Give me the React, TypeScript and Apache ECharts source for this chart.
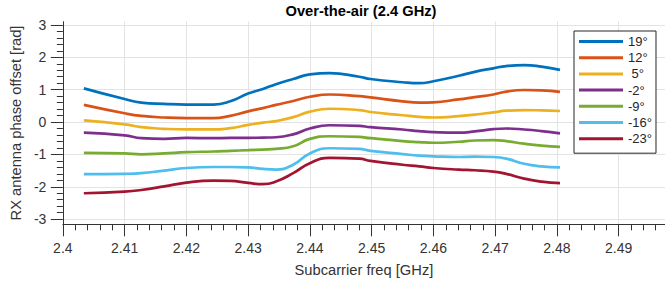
import React, { useEffect, useRef } from 'react';
import * as echarts from 'echarts';

const freqs = [2.4034, 2.41, 2.4127, 2.4164, 2.42, 2.4244, 2.4271, 2.43, 2.4324, 2.4345, 2.4373, 2.44, 2.4432, 2.448, 2.4498, 2.455, 2.4577, 2.46, 2.4641, 2.4667, 2.4697, 2.4718, 2.4747, 2.4775, 2.4805];

const angles = ['19°', '12°', ' 5°', '-2°', '-9°', '-16°', '-23°'];
const colors = ['#0072BD', '#D95319', '#EDB120', '#7E2F8E', '#77AC30', '#4DBEEE', '#A2142F'];

const s19 = [1.04, 0.71, 0.60, 0.56, 0.54, 0.54, 0.64, 0.88, 1.02, 1.17, 1.33, 1.47, 1.51, 1.40, 1.33, 1.23, 1.20, 1.26, 1.43, 1.55, 1.66, 1.73, 1.76, 1.71, 1.61];
const s12 = [0.53, 0.27, 0.19, 0.14, 0.12, 0.12, 0.19, 0.33, 0.43, 0.53, 0.65, 0.78, 0.85, 0.80, 0.76, 0.64, 0.60, 0.61, 0.70, 0.77, 0.85, 0.94, 0.99, 0.98, 0.93];
const s5 = [0.05, -0.07, -0.16, -0.21, -0.23, -0.23, -0.19, -0.09, -0.02, 0.03, 0.15, 0.32, 0.41, 0.37, 0.31, 0.21, 0.16, 0.14, 0.18, 0.23, 0.30, 0.35, 0.37, 0.36, 0.34];
const sm2 = [-0.33, -0.41, -0.50, -0.52, -0.49, -0.50, -0.49, -0.49, -0.48, -0.47, -0.38, -0.20, -0.10, -0.12, -0.16, -0.23, -0.28, -0.31, -0.33, -0.29, -0.22, -0.20, -0.23, -0.28, -0.35];
const sm9 = [-0.95, -0.97, -1.00, -0.97, -0.93, -0.91, -0.89, -0.87, -0.85, -0.83, -0.75, -0.52, -0.44, -0.46, -0.50, -0.59, -0.62, -0.64, -0.61, -0.57, -0.56, -0.59, -0.67, -0.73, -0.77];
const sm16 = [-1.61, -1.60, -1.58, -1.50, -1.42, -1.39, -1.39, -1.40, -1.45, -1.47, -1.32, -0.97, -0.81, -0.83, -0.89, -0.99, -1.04, -1.06, -1.08, -1.07, -1.08, -1.13, -1.29, -1.37, -1.40];
const sm23 = [-2.20, -2.15, -2.10, -1.99, -1.87, -1.81, -1.82, -1.88, -1.92, -1.84, -1.58, -1.27, -1.11, -1.13, -1.20, -1.32, -1.37, -1.42, -1.47, -1.49, -1.53, -1.60, -1.75, -1.84, -1.89];

const seriesValues = [s19, s12, s5, sm2, sm9, sm16, sm23];

const xTicks = [2.4, 2.41, 2.42, 2.43, 2.44, 2.45, 2.46, 2.47, 2.48, 2.49];
const yTicks = [-3, -2, -1, 0, 1, 2, 3];

const FONT = "'Liberation Sans', Arial, Helvetica, sans-serif";
const AXIS = '#333333';
const GRIDC = '#e3e3e3';

export default function App() {
  const ref = useRef<HTMLDivElement>(null);
  useEffect(() => {
    if (!ref.current) return;
    const chart = echarts.init(ref.current, undefined, { renderer: 'svg' });
    const option: any = {
      animation: false,
      backgroundColor: '#ffffff',
      textStyle: { fontFamily: FONT },
      title: {
        text: 'Over-the-air (2.4 GHz)',
        left: 361,
        top: 3,
        padding: 0,
        textAlign: 'center',
        textStyle: { fontFamily: FONT, fontSize: 14.7, fontWeight: 'bold', color: '#000' },
      },
      grid: { left: 58, right: 0, top: 21.7, bottom: 58.7, containLabel: false },
      legend: {
        orient: 'vertical',
        left: 574,
        top: 31,
        padding: [4, 4, 8, 5],
        itemGap: 3.2,
        itemWidth: 44,
        itemHeight: 3,
        icon: 'rect',
        backgroundColor: '#ffffff',
        borderColor: '#262626',
        borderWidth: 1,
        borderRadius: 0,
        textStyle: { fontFamily: FONT, fontSize: 13, color: '#262626', lineHeight: 13 },
        data: angles,
      },
      xAxis: {
        type: 'value',
        min: 2.4,
        max: 2.4975,
        interval: 0.01,
        name: 'Subcarrier freq [GHz]',
        nameLocation: 'middle',
        nameGap: 38,
        nameTextStyle: { fontFamily: FONT, fontSize: 14.7, color: '#333' },
        axisLine: { show: true, onZero: false, lineStyle: { color: AXIS, width: 1 } },
        axisTick: { show: true, inside: false, length: 12, lineStyle: { color: AXIS }, customValues: xTicks },
        minorTick: { show: true, splitNumber: 5, length: 6, lineStyle: { color: AXIS } },
        axisLabel: {
          customValues: xTicks,
          margin: 17,
          fontFamily: FONT,
          fontSize: 14,
          color: '#333',
          formatter: (v: number) => String(Math.round(v * 1000) / 1000),
        },
        splitLine: { show: true, lineStyle: { color: GRIDC, width: 1 } },
      },
      yAxis: {
        type: 'value',
        min: -3.16,
        max: 3.1,
        splitNumber: 6,
        name: 'RX antenna phase offset [rad]',
        nameLocation: 'middle',
        nameGap: 36.5,
        nameTextStyle: { fontFamily: FONT, fontSize: 14.7, color: '#333' },
        axisLine: { show: true, onZero: false, lineStyle: { color: AXIS, width: 1 } },
        axisTick: { show: true, inside: false, length: 12, lineStyle: { color: AXIS }, customValues: yTicks },
        minorTick: { show: true, splitNumber: 5, length: 6, lineStyle: { color: AXIS } },
        axisLabel: {
          customValues: yTicks,
          margin: 16.5,
          fontFamily: FONT,
          fontSize: 14,
          color: '#333',
        },
        splitLine: { show: true, lineStyle: { color: GRIDC, width: 1 } },
      },
      series: angles.map((name, i) => ({
        name,
        type: 'line',
        data: freqs.map((f, j) => [f, seriesValues[i][j]]),
        smooth: 0.5,
        showSymbol: false,
        symbol: 'none',
        color: colors[i],
        lineStyle: { color: colors[i], width: 2.7 },
        z: 3,
      })),
    };
    chart.setOption(option);
    return () => chart.dispose();
  }, []);
  return (
    <div
      ref={ref}
      style={{ position: 'fixed', left: 0, top: 0, width: 665, height: 283, background: '#fff' }}
    />
  );
}
